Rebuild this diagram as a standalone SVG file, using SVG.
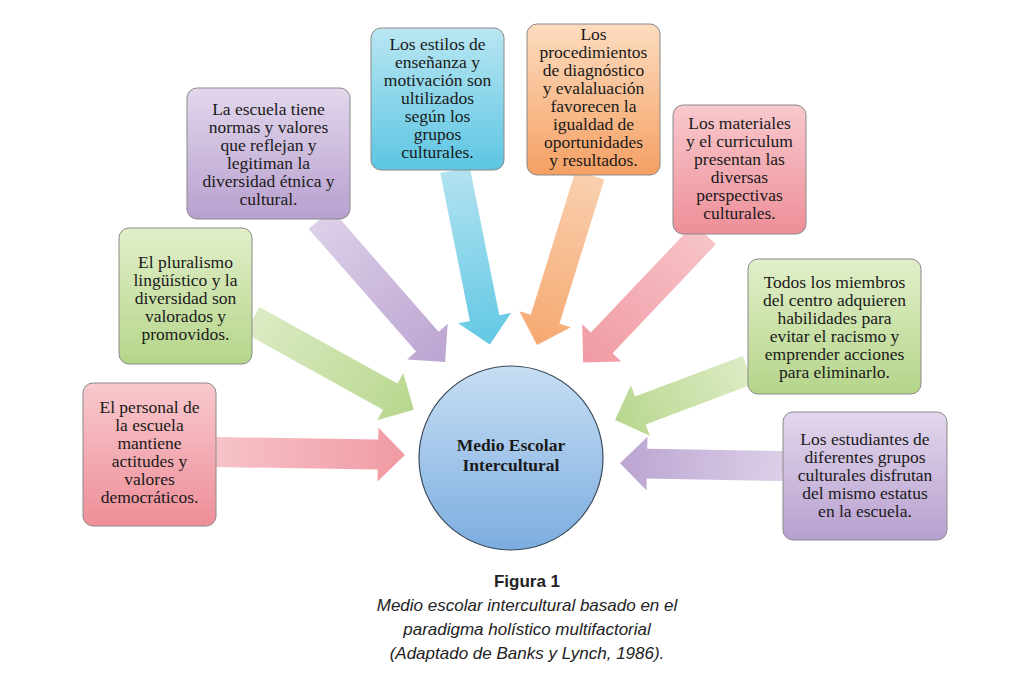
<svg xmlns="http://www.w3.org/2000/svg" width="1024" height="683" viewBox="0 0 1024 683">
<style>
.bx{stroke:#8a8a8a;stroke-width:1}
.t{font-family:"Liberation Serif",serif;font-size:17.5px;fill:#1a1a1a;text-anchor:middle}
.cap{font-family:"Liberation Sans Narrow","Liberation Sans",sans-serif;font-size:17px;fill:#222;text-anchor:middle}
</style>
<defs>
<linearGradient id="gRed" x1="0" y1="0" x2="0" y2="1"><stop offset="0" stop-color="#f8c9cd"/><stop offset="1" stop-color="#ee8e98"/></linearGradient>
<linearGradient id="gGrn" x1="0" y1="0" x2="0" y2="1"><stop offset="0" stop-color="#e2efca"/><stop offset="1" stop-color="#b5d58a"/></linearGradient>
<linearGradient id="gPur" x1="0" y1="0" x2="0" y2="1"><stop offset="0" stop-color="#e2d7ec"/><stop offset="1" stop-color="#b8a0cf"/></linearGradient>
<linearGradient id="gBlu" x1="0" y1="0" x2="0" y2="1"><stop offset="0" stop-color="#b9e6f2"/><stop offset="1" stop-color="#5cc5e2"/></linearGradient>
<linearGradient id="gOra" x1="0" y1="0" x2="0" y2="1"><stop offset="0" stop-color="#fcdcbf"/><stop offset="1" stop-color="#f5a064"/></linearGradient>
<linearGradient id="gCir" x1="0" y1="0" x2="0" y2="1"><stop offset="0" stop-color="#c7def3"/><stop offset="1" stop-color="#7cade0"/></linearGradient>
<linearGradient id="aRed" x1="0" y1="0" x2="1" y2="0"><stop offset="0" stop-color="#f6c3c8"/><stop offset="1" stop-color="#f19aa3"/></linearGradient>
<linearGradient id="aGrn" x1="0" y1="0" x2="1" y2="0"><stop offset="0" stop-color="#dcebc4"/><stop offset="1" stop-color="#b8d78e"/></linearGradient>
<linearGradient id="aPur" x1="0" y1="0" x2="1" y2="0"><stop offset="0" stop-color="#dcd0e8"/><stop offset="1" stop-color="#bba4d1"/></linearGradient>
<linearGradient id="aBlu" x1="0" y1="0" x2="1" y2="0"><stop offset="0" stop-color="#b2e2f0"/><stop offset="1" stop-color="#62c8e4"/></linearGradient>
<linearGradient id="aOra" x1="0" y1="0" x2="1" y2="0"><stop offset="0" stop-color="#f9d0af"/><stop offset="1" stop-color="#f6a870"/></linearGradient>
</defs>
<rect width="1024" height="683" fill="#fff"/>
<g id="connectors">
<path transform="translate(216,452) rotate(0.9)" d="M0,-15 H162 V-27 L189,0 L162,27 V15 H0 Z" fill="url(#aRed)"/>
<path transform="translate(252,320) rotate(29)" d="M0,-15 H158 V-27 L185,0 L158,27 V15 H0 Z" fill="url(#aGrn)"/>
<path transform="translate(320,219) rotate(48.8)" d="M0,-15 H163 V-27 L190,0 L163,27 V15 H0 Z" fill="url(#aPur)"/>
<path transform="translate(455,170) rotate(78.7)" d="M0,-15 H151 V-27 L178,0 L151,27 V15 H0 Z" fill="url(#aBlu)"/>
<path transform="translate(590,175) rotate(107.3)" d="M0,-15 H151 V-27 L178,0 L151,27 V15 H0 Z" fill="url(#aOra)"/>
<path transform="translate(705,234) rotate(133.5)" d="M0,-15 H150 V-27 L177,0 L150,27 V15 H0 Z" fill="url(#aRed)"/>
<path transform="translate(748,370) rotate(159.4)" d="M0,-15 H115 V-27 L142,0 L115,27 V15 H0 Z" fill="url(#aGrn)"/>
<path transform="translate(783,466) rotate(181)" d="M0,-15 H136 V-27 L163,0 L136,27 V15 H0 Z" fill="url(#aPur)"/>
</g>
<g id="center">
<circle cx="511" cy="458" r="92" fill="url(#gCir)" stroke="#3a4a5a" stroke-width="1.2"/>
<text class="t" x="511" y="451" font-weight="bold">Medio Escolar</text>
<text class="t" x="511" y="471" font-weight="bold">Intercultural</text>
</g>
<g id="n1">
<rect class="bx" x="83" y="383" width="133" height="143" rx="10" fill="url(#gRed)"/>
<text class="t"><tspan x="149.5" y="413">El personal de</tspan><tspan x="149.5" y="431">la escuela</tspan><tspan x="149.5" y="449">mantiene</tspan><tspan x="149.5" y="467">actitudes y</tspan><tspan x="149.5" y="485">valores</tspan><tspan x="149.5" y="503">democráticos.</tspan></text>
</g>
<g id="n2">
<rect class="bx" x="119" y="228" width="133" height="136" rx="10" fill="url(#gGrn)"/>
<text class="t"><tspan x="185.5" y="268">El pluralismo</tspan><tspan x="185.5" y="286">lingüístico y la</tspan><tspan x="185.5" y="304">diversidad son</tspan><tspan x="185.5" y="322">valorados y</tspan><tspan x="185.5" y="340">promovidos.</tspan></text>
</g>
<g id="n3">
<rect class="bx" x="187" y="88" width="163" height="131" rx="10" fill="url(#gPur)"/>
<text class="t"><tspan x="268.5" y="115">La escuela tiene</tspan><tspan x="268.5" y="133">normas y valores</tspan><tspan x="268.5" y="151">que reflejan y</tspan><tspan x="268.5" y="169">legitiman la</tspan><tspan x="268.5" y="187">diversidad étnica y</tspan><tspan x="268.5" y="205">cultural.</tspan></text>
</g>
<g id="n4">
<rect class="bx" x="371" y="28" width="133" height="142" rx="10" fill="url(#gBlu)"/>
<text class="t"><tspan x="437.5" y="50">Los estilos de</tspan><tspan x="437.5" y="68">enseñanza y</tspan><tspan x="437.5" y="86">motivación son</tspan><tspan x="437.5" y="104">ultilizados</tspan><tspan x="437.5" y="122">según los</tspan><tspan x="437.5" y="140">grupos</tspan><tspan x="437.5" y="158">culturales.</tspan></text>
</g>
<g id="n5">
<rect class="bx" x="527" y="24" width="133" height="151" rx="10" fill="url(#gOra)"/>
<text class="t"><tspan x="593.5" y="40">Los</tspan><tspan x="593.5" y="58">procedimientos</tspan><tspan x="593.5" y="76">de diagnóstico</tspan><tspan x="593.5" y="94">y evalaluación</tspan><tspan x="593.5" y="112">favorecen la</tspan><tspan x="593.5" y="130">igualdad de</tspan><tspan x="593.5" y="148">oportunidades</tspan><tspan x="593.5" y="166">y resultados.</tspan></text>
</g>
<g id="n6">
<rect class="bx" x="673" y="105" width="133" height="129" rx="10" fill="url(#gRed)"/>
<text class="t"><tspan x="739.5" y="129">Los materiales</tspan><tspan x="739.5" y="147">y el curriculum</tspan><tspan x="739.5" y="165">presentan las</tspan><tspan x="739.5" y="183">diversas</tspan><tspan x="739.5" y="201">perspectivas</tspan><tspan x="739.5" y="219">culturales.</tspan></text>
</g>
<g id="n7">
<rect class="bx" x="748" y="259" width="173" height="135" rx="10" fill="url(#gGrn)"/>
<text class="t"><tspan x="834.5" y="288">Todos los miembros</tspan><tspan x="834.5" y="306">del centro adquieren</tspan><tspan x="834.5" y="324">habilidades para</tspan><tspan x="834.5" y="342">evitar el racismo y</tspan><tspan x="834.5" y="360">emprender acciones</tspan><tspan x="834.5" y="378">para eliminarlo.</tspan></text>
</g>
<g id="n8">
<rect class="bx" x="783" y="412" width="164" height="128" rx="10" fill="url(#gPur)"/>
<text class="t"><tspan x="865" y="445">Los estudiantes de</tspan><tspan x="865" y="463">diferentes grupos</tspan><tspan x="865" y="481">culturales disfrutan</tspan><tspan x="865" y="499">del mismo estatus</tspan><tspan x="865" y="517">en la escuela.</tspan></text>
</g>
<g id="caption">
<text class="cap" x="527" y="587" font-weight="bold">Figura 1</text>
<text class="cap" x="527" y="611" font-style="italic">Medio escolar intercultural basado en el</text>
<text class="cap" x="527" y="635" font-style="italic">paradigma holístico multifactorial</text>
<text class="cap" x="527" y="659" font-style="italic">(Adaptado de Banks y Lynch, 1986).</text>
</g>
</svg>
